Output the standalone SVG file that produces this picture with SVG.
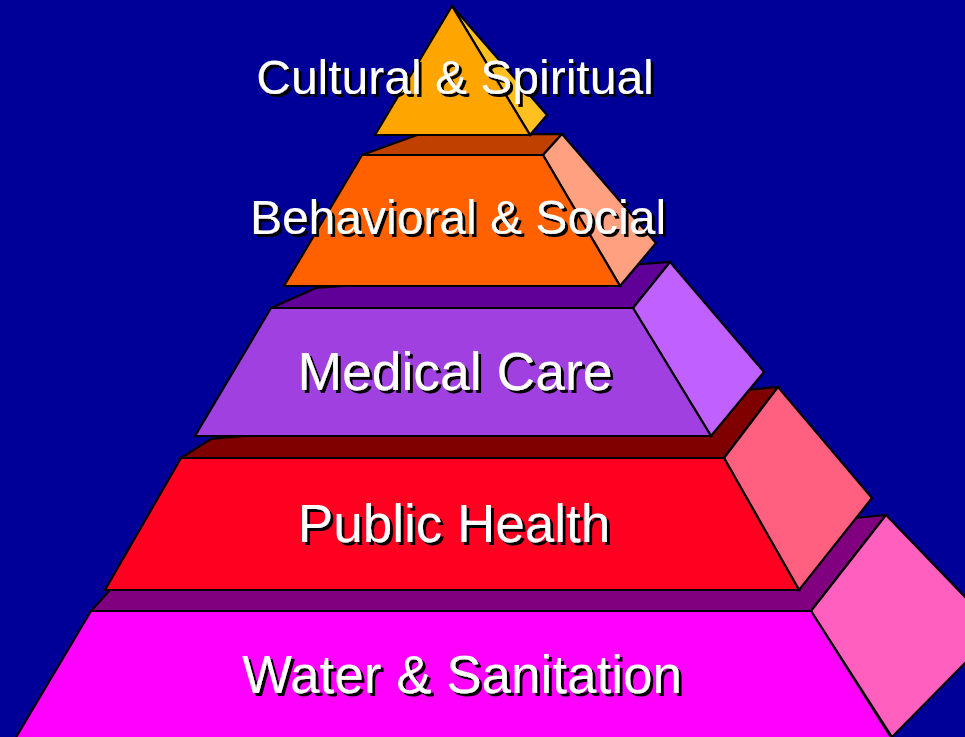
<svg xmlns="http://www.w3.org/2000/svg" width="965" height="737" viewBox="0 0 965 737">
<defs>
<filter id="sh" x="-5%" y="-20%" width="110%" height="140%">
<feOffset in="SourceAlpha" dx="3" dy="3" result="o"/>
<feMerge><feMergeNode in="o"/><feMergeNode in="SourceGraphic"/></feMerge>
</filter>
</defs>
<style>
.e{stroke:#000;stroke-width:2.2;stroke-linejoin:miter}
.t{font-family:"Liberation Sans",Arial,sans-serif;text-anchor:middle;fill:#fff;filter:url(#sh)}
</style>
<rect x="0" y="0" width="965" height="737" fill="#000099"/>
<g id="water">
<polygon class="e" fill="#800080" points="91,611 110,590 886,515 811,611"/>
<polygon class="e" fill="#FF60C0" points="811,611 886,515 968,600 968,660 892,737"/>
<polygon class="e" fill="#FF00FF" points="91,611 811,611 892,739 15,739"/>
<text class="t" x="462" y="693" font-size="53">Water &amp; Sanitation</text>
</g>
<g id="public">
<polygon class="e" fill="#800000" points="181,458 211,439 778,387 724,458"/>
<polygon class="e" fill="#FF6080" points="724,458 778,387 872,498 799,590"/>
<polygon class="e" fill="#FF0020" points="181,458 724,458 799,590 105,590"/>
<text class="t" x="454" y="542" font-size="53">Public Health</text>
</g>
<g id="medical">
<polygon class="e" fill="#600099" points="271,308 316,288 670,262 633,308"/>
<polygon class="e" fill="#C060FF" points="633,308 670,262 764,372 711,436"/>
<polygon class="e" fill="#A040E0" points="271,308 633,308 711,436 195,436"/>
<text class="t" x="455" y="390" font-size="53.5">Medical Care</text>
</g>
<g id="behavioral">
<polygon class="e" fill="#C04000" points="362,155 417,135 562,134 543,155"/>
<polygon class="e" fill="#FFA080" points="543,155 562,134 656,243 620,286"/>
<polygon class="e" fill="#FF6000" points="362,155 543,155 620,286 284,286"/>
<text class="t" x="458" y="234" font-size="48">Behavioral &amp; Social</text>
</g>
<g id="cultural">
<polygon class="e" fill="#FFC020" points="452,6 547,115 530,135"/>
<polygon class="e" fill="#FFA500" points="452,6 530,135 375,135"/>
<text class="t" x="455" y="94" font-size="48">Cultural &amp; Spiritual</text>
</g>
<g id="connectors"/>
</svg>
